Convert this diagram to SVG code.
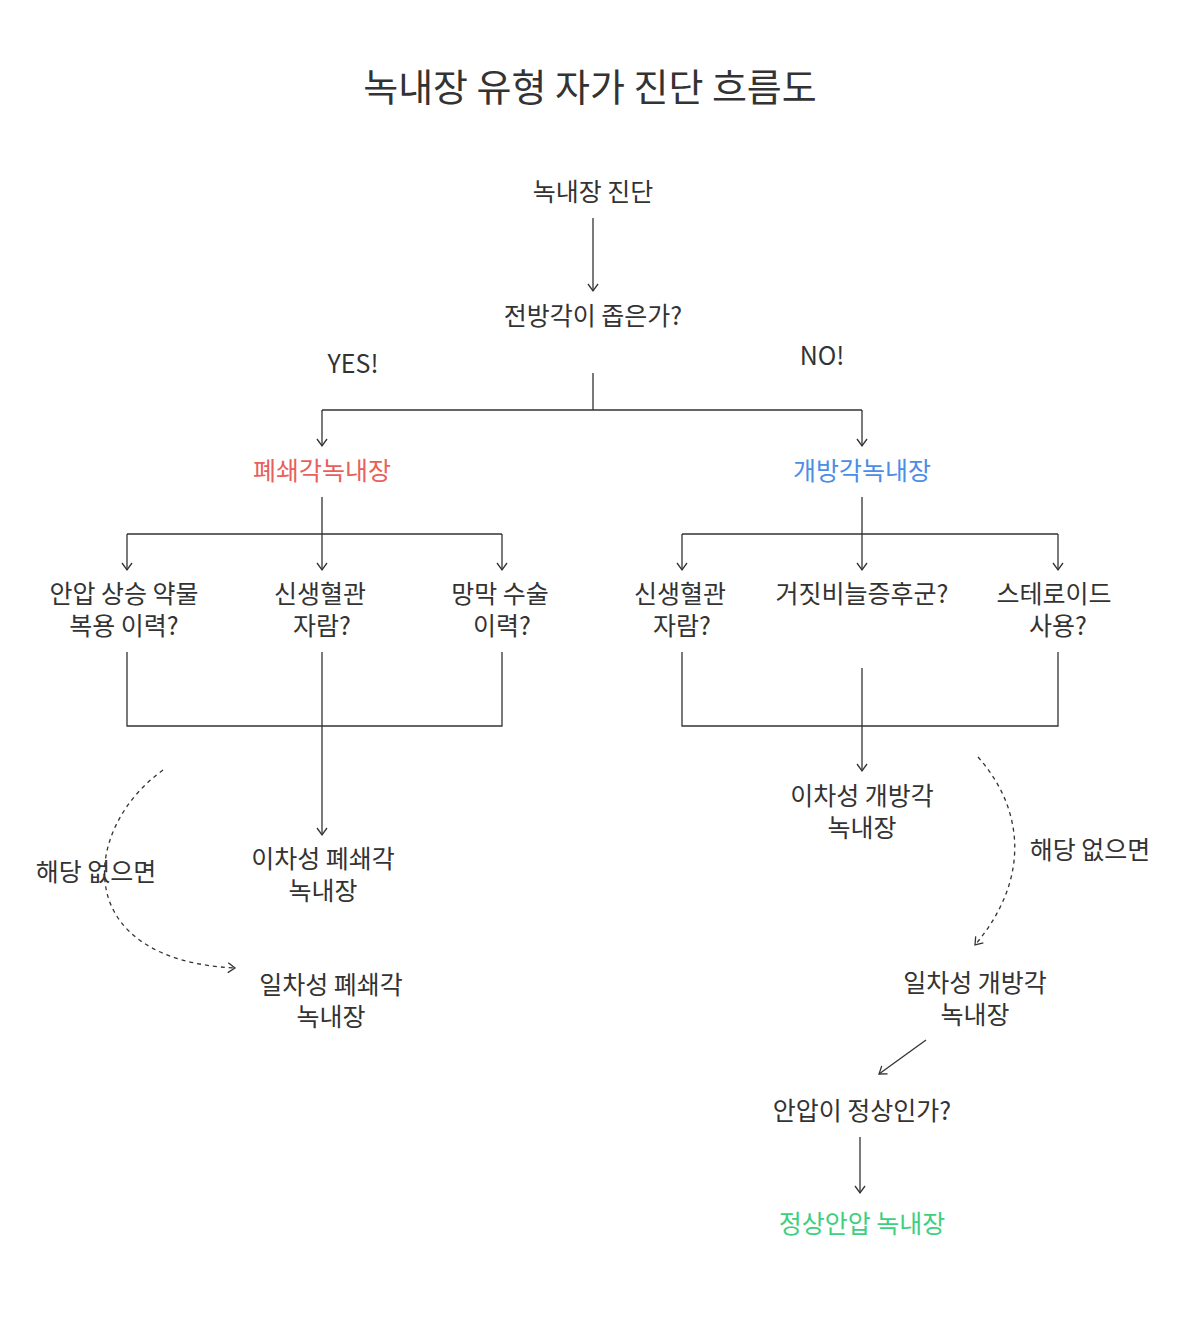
<svg xmlns="http://www.w3.org/2000/svg" width="1200" height="1338" viewBox="0 0 1200 1338">
<style>
text{font-family:"Noto Sans CJK KR","Noto Sans",sans-serif;font-size:25px;fill:#333;text-anchor:middle;dominant-baseline:central}
.t{font-size:38px}
.ln{fill:none;stroke:#333;stroke-width:1.3}
.d{stroke-dasharray:4 4}
</style>
<defs>
<marker id="a" viewBox="0 0 12 12" refX="10" refY="6" markerWidth="12" markerHeight="12" markerUnits="userSpaceOnUse" orient="auto">
<path d="M3,1 L10,6 L3,11" fill="none" stroke="#333" stroke-width="1.3"/>
</marker>
</defs>
<rect width="1200" height="1338" fill="#fff"/>
<text class="t" x="590" y="84">녹내장 유형 자가 진단 흐름도</text>
<g id="connectors">
<path class="ln" d="M593,218 V291" marker-end="url(#a)"/>
<path class="ln" d="M593,373 V410 M322,410 H862"/>
<path class="ln" d="M322,410 V446" marker-end="url(#a)"/>
<path class="ln" d="M862,410 V446" marker-end="url(#a)"/>
<path class="ln" d="M322,497 V534 M127,534 H502"/>
<path class="ln" d="M127,534 V570" marker-end="url(#a)"/>
<path class="ln" d="M322,534 V570" marker-end="url(#a)"/>
<path class="ln" d="M502,534 V570" marker-end="url(#a)"/>
<path class="ln" d="M127,652 V726 H502 V652"/>
<path class="ln" d="M322,652 V835" marker-end="url(#a)"/>
<path class="ln d" d="M163,770 C80,830 70,960 235,968" marker-end="url(#a)"/>
<path class="ln" d="M862,497 V534 M682,534 H1058"/>
<path class="ln" d="M682,534 V570" marker-end="url(#a)"/>
<path class="ln" d="M862,534 V570" marker-end="url(#a)"/>
<path class="ln" d="M1058,534 V570" marker-end="url(#a)"/>
<path class="ln" d="M682,652 V726 H1058 V652"/>
<path class="ln" d="M862,668 V771" marker-end="url(#a)"/>
<path class="ln d" d="M978,757 C1025,810 1030,880 975,945" marker-end="url(#a)"/>
<path class="ln" d="M926,1040 L879,1074" marker-end="url(#a)"/>
<path class="ln" d="M860,1137 V1193" marker-end="url(#a)"/>
</g>
<text x="353" y="362">YES!</text>
<text x="822" y="354">NO!</text>
<text x="96" y="870">해당 없으면</text>
<text x="1090" y="848">해당 없으면</text>
<g id="n1"><text x="593" y="190">녹내장 진단</text></g>
<g id="n2"><text x="593" y="314">전방각이 좁은가?</text></g>
<g id="n3"><text x="322" y="469" style="fill:#e8605c">폐쇄각녹내장</text></g>
<g id="n4"><text x="862" y="469" style="fill:#4a8ee6">개방각녹내장</text></g>
<g id="n5"><text x="124" y="592">안압 상승 약물</text><text x="124" y="624">복용 이력?</text></g>
<g id="n6"><text x="320" y="592">신생혈관</text><text x="322" y="624">자람?</text></g>
<g id="n7"><text x="500" y="592">망막 수술</text><text x="502" y="624">이력?</text></g>
<g id="n8"><text x="323" y="857">이차성 폐쇄각</text><text x="323" y="889">녹내장</text></g>
<g id="n9"><text x="331" y="983">일차성 폐쇄각</text><text x="331" y="1015">녹내장</text></g>
<g id="n10"><text x="680" y="592">신생혈관</text><text x="682" y="624">자람?</text></g>
<g id="n11"><text x="862" y="592">거짓비늘증후군?</text></g>
<g id="n12"><text x="1054" y="592">스테로이드</text><text x="1058" y="624">사용?</text></g>
<g id="n13"><text x="862" y="794">이차성 개방각</text><text x="862" y="826">녹내장</text></g>
<g id="n14"><text x="975" y="981">일차성 개방각</text><text x="975" y="1013">녹내장</text></g>
<g id="n15"><text x="862" y="1109">안압이 정상인가?</text></g>
<g id="n16"><text x="862" y="1222" style="fill:#3ecf7e">정상안압 녹내장</text></g>
</svg>
